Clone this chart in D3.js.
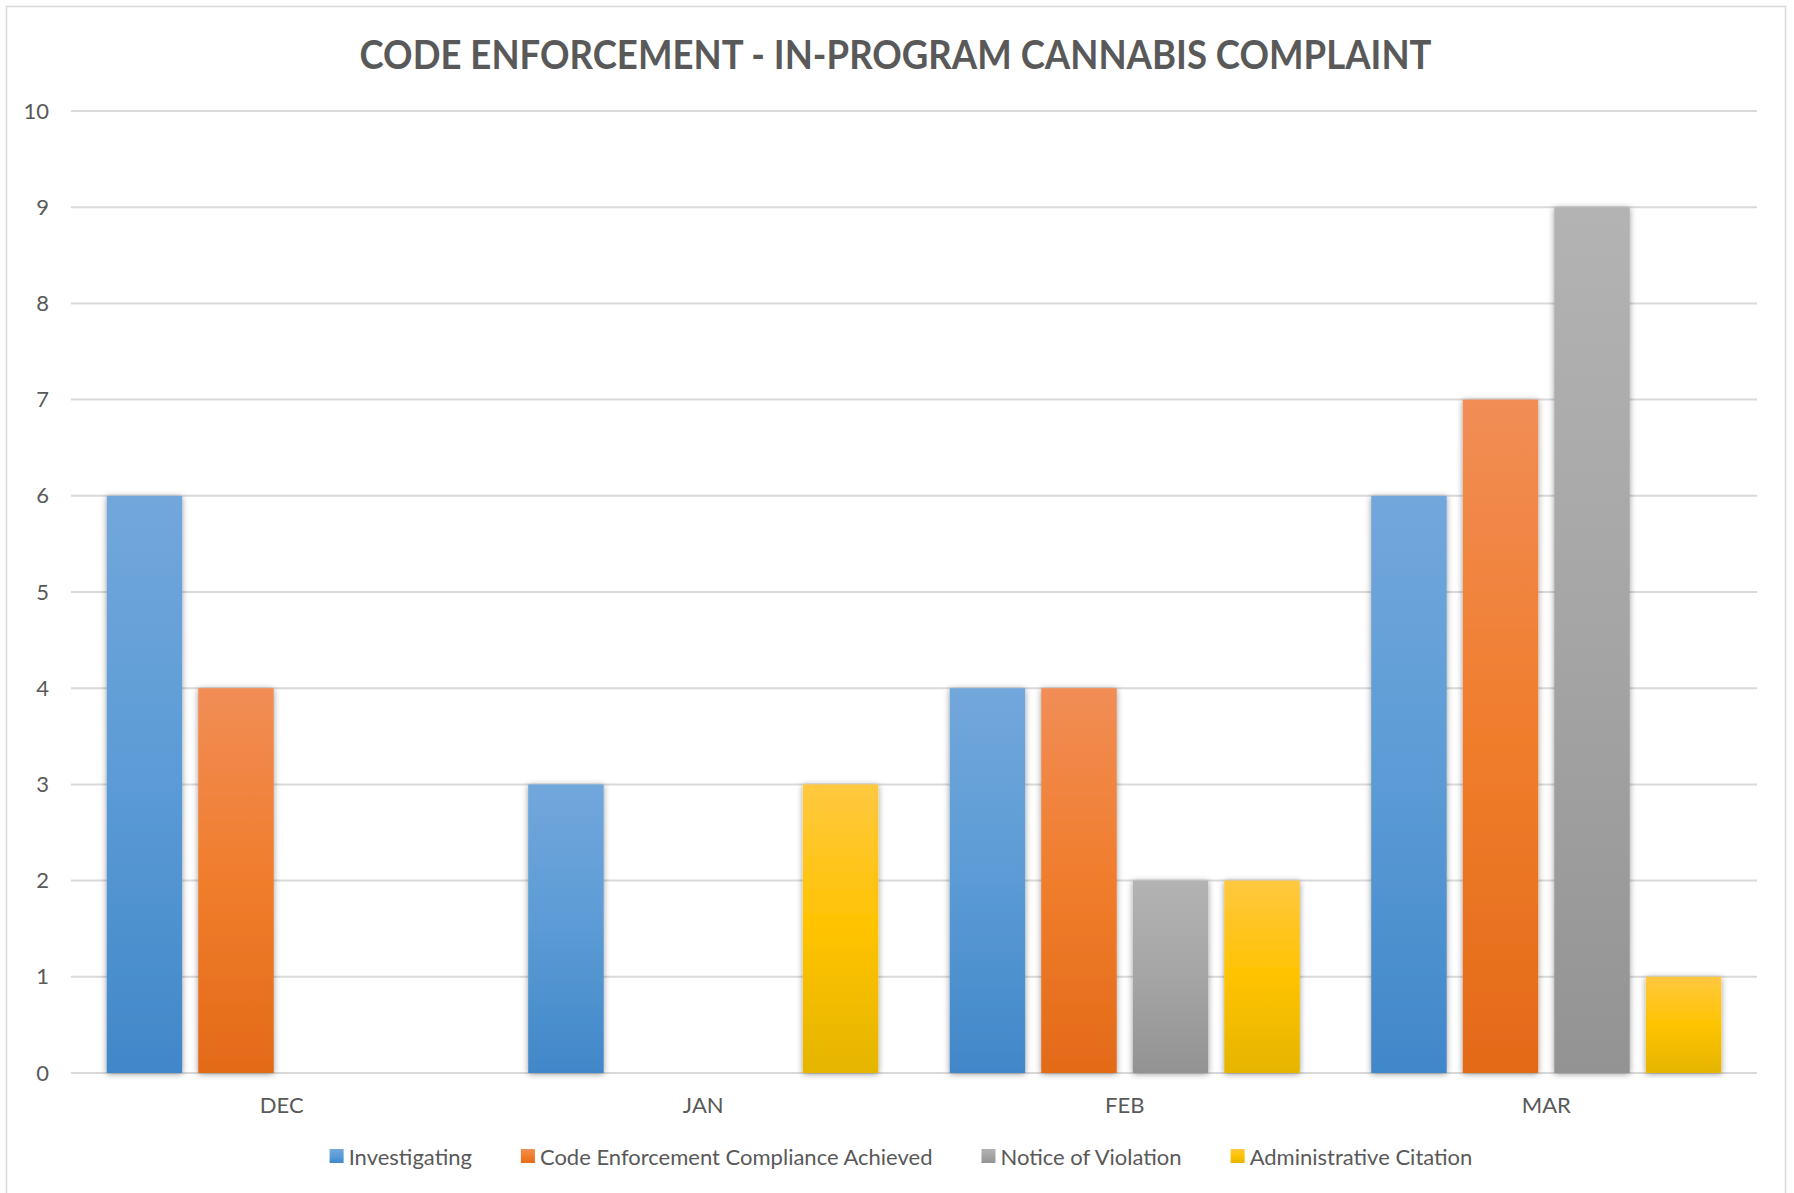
<!DOCTYPE html>
<html>
<head>
<meta charset="utf-8">
<script src="https://cdn.jsdelivr.net/npm/d3@7"></script>
<style>
  body { margin: 0; background: #fff; }
  text { font-family: Lato, "Open Sans", sans-serif; fill: #595959; }
</style>
</head>
<body>
<svg id="chart" width="1794" height="1193"></svg>
<script>
var months = ["DEC", "JAN", "FEB", "MAR"];
var seriesNames = ["Investigating", "Code Enforcement Compliance Achieved", "Notice of Violation", "Administrative Citation"];
var investigating = [6, 3, 4, 6];
var compliance = [4, 0, 4, 7];
var violation = [0, 0, 2, 9];
var citation = [0, 3, 2, 1];
var yTicks = [0, 1, 2, 3, 4, 5, 6, 7, 8, 9, 10];
var title = "CODE ENFORCEMENT - IN-PROGRAM CANNABIS COMPLAINT";

// top / mid / bottom colours of the bar gradients
var colors = [
  ["#72a7dc", "#5b9bd5", "#4187c9"],
  ["#f18d56", "#f07d2c", "#e36a18"],
  ["#b3b3b3", "#a5a5a5", "#939393"],
  ["#ffc840", "#ffc300", "#e5b500"]
];

var allValues = [investigating, compliance, violation, citation];
var rows = [];
months.forEach(function (m, i) {
  seriesNames.forEach(function (s, j) {
    rows.push({ month: m, series: s, idx: j, value: allValues[j][i] });
  });
});

var svg = d3.select("#chart");
var margin = { left: 71, right: 37, top: 111, bottom: 120 };
var W = 1794, H = 1193;

// outer chart border
svg.append("rect")
  .attr("x", 6.5).attr("y", 6.5)
  .attr("width", 1779).attr("height", 1200)
  .attr("fill", "#fff").attr("stroke", "#d9d9d9").attr("stroke-width", 1.5);

var defs = svg.append("defs");
colors.forEach(function (c, j) {
  var g = defs.append("linearGradient").attr("id", "grad" + j)
    .attr("x1", 0).attr("y1", 0).attr("x2", 0).attr("y2", 1);
  g.append("stop").attr("offset", "0%").attr("stop-color", c[0]);
  g.append("stop").attr("offset", "50%").attr("stop-color", c[1]);
  g.append("stop").attr("offset", "100%").attr("stop-color", c[2]);
});
var f = defs.append("filter").attr("id", "shadow")
  .attr("x", "-20%").attr("y", "-5%").attr("width", "140%").attr("height", "110%");
f.append("feDropShadow").attr("dx", 0).attr("dy", 1).attr("stdDeviation", 3)
  .attr("flood-color", "#000").attr("flood-opacity", 0.4);

var x0 = d3.scaleBand().domain(months).range([margin.left, W - margin.right]).padding(0);
var x1 = d3.scaleBand().domain(seriesNames).range([0, x0.bandwidth()])
  .paddingInner(0.175).paddingOuter(0.39);
var y = d3.scaleLinear().domain([0, 10]).range([H - margin.bottom, margin.top]);

// gridlines
svg.append("g")
  .selectAll("line").data(yTicks).enter().append("line")
  .attr("x1", margin.left).attr("x2", W - margin.right)
  .attr("y1", function (d) { return y(d); }).attr("y2", function (d) { return y(d); })
  .attr("stroke", "#d9d9d9").attr("stroke-width", 2);

// y axis labels
var yAxis = d3.axisLeft(y).tickValues(yTicks).tickSize(0).tickPadding(22);
var ya = svg.append("g").attr("transform", "translate(" + margin.left + ",0)").call(yAxis);
ya.select(".domain").remove();
ya.selectAll("text").style("font-size", "22px").attr("fill", "#595959");

// x axis labels
var xAxis = d3.axisBottom(x0).tickSize(0).tickPadding(24);
var xa = svg.append("g").attr("transform", "translate(0," + y(0) + ")").call(xAxis);
xa.select(".domain").remove();
xa.selectAll("text").style("font-size", "22px").attr("fill", "#595959");

// bars
svg.append("g").selectAll("rect")
  .data(rows.filter(function (d) { return d.value > 0; }))
  .enter().append("rect")
  .attr("x", function (d) { return x0(d.month) + x1(d.series); })
  .attr("y", function (d) { return y(d.value); })
  .attr("width", x1.bandwidth())
  .attr("height", function (d) { return y(0) - y(d.value); })
  .attr("fill", function (d) { return "url(#grad" + d.idx + ")"; })
  .attr("filter", "url(#shadow)");

// title
svg.append("text")
  .attr("x", (6 + 1785) / 2).attr("y", 69)
  .attr("text-anchor", "middle")
  .style("font-size", "41px").style("font-weight", "700")
  .attr("textLength", 1072).attr("lengthAdjust", "spacingAndGlyphs")
  .text(title);

// legend
var legend = svg.append("g").attr("transform", "translate(0,1157)");
var items = legend.selectAll("g").data(seriesNames).enter().append("g");
items.append("rect").attr("width", 14).attr("height", 14).attr("y", -8)
  .attr("fill", function (d, j) { return "url(#grad" + j + ")"; });
items.append("text").attr("x", 19).attr("dy", "0.35em")
  .style("font-size", "22px").text(function (d) { return d; });
var gap = 49, pos = 0, offsets = [];
items.each(function () {
  offsets.push(pos);
  pos += this.getBBox().width + gap;
});
var totalW = pos - gap;
var startX = 901 - totalW / 2;
items.attr("transform", function (d, j) { return "translate(" + (startX + offsets[j]) + ",0)"; });
</script>
</body>
</html>
